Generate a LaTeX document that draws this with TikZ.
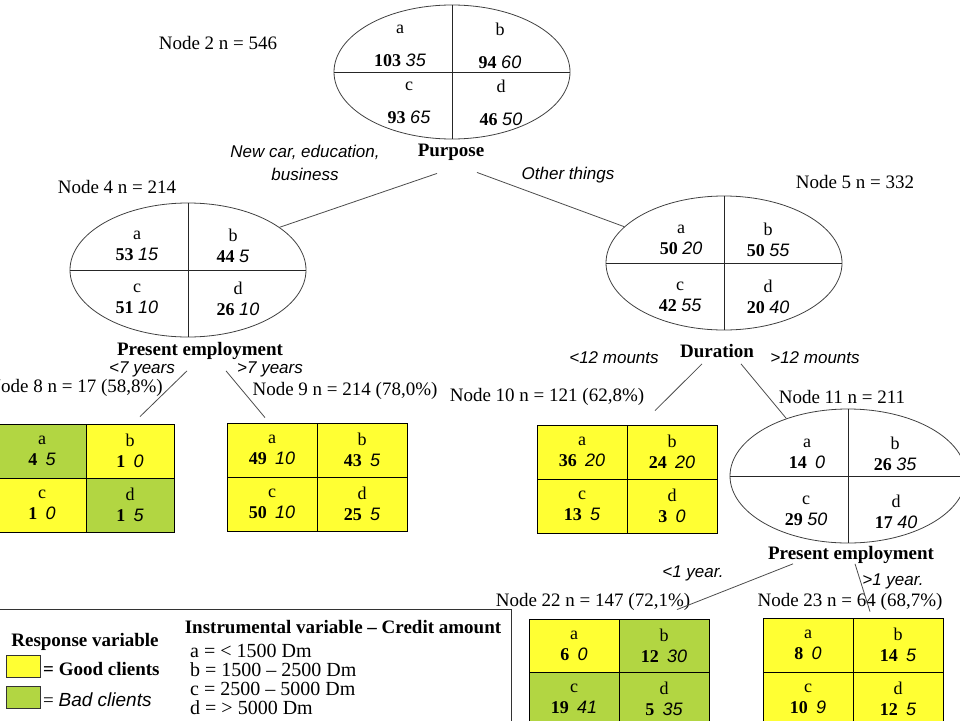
\documentclass[tikz,border=0pt]{standalone}
\usepackage{fontspec}
\setmainfont{Liberation Serif}
\newfontfamily\labelfont{Liberation Sans}
\usepackage{xcolor}
\usepackage{tikz}
\usetikzlibrary{positioning, shapes.geometric}
\definecolor{goodcol}{RGB}{255,255,51}
\definecolor{badcol}{RGB}{178,214,66}
\newcommand{\itn}[1]{{\labelfont\itshape #1}}
\newcommand{\cellv}[3]{#1\\\textbf{#2}~\itn{#3}}
\newcommand{\boxv}[3]{#1\\\textbf{#2}\hspace{0.45em}\itn{#3}}

\begin{document}
\begin{tikzpicture}[x=1pt, y=-1pt, font=\fontsize{19}{21}\selectfont]
	\tikzstyle{splitnode}=[ellipse, draw=black!75, line width=0.8pt, minimum width=236pt, minimum height=134pt, inner sep=0pt]
	\tikzstyle{divider}=[black!85, line width=0.9pt]
	\tikzstyle{quadtext}=[align=center, inner sep=0pt, font=\fontsize{18}{21}\selectfont]
	\tikzstyle{cellbox}=[rectangle, draw=black, line width=0.8pt, minimum width=88pt, minimum height=54pt, inner sep=0pt, align=center, font=\fontsize{18}{21}\selectfont]
	\tikzstyle{nodelabel}=[inner sep=0pt]
	\tikzstyle{splitlabel}=[inner sep=0pt, font=\fontsize{19}{21}\selectfont\bfseries]
	\tikzstyle{branchlabel}=[inner sep=0pt, align=center, font=\fontsize{17}{23}\selectfont\labelfont\itshape]
	\tikzstyle{branch}=[black!70, line width=0.8pt]

	\useasboundingbox (0,0) rectangle (960,720);
	\clip (0,0) rectangle (960,720);

	% node 2
	\node[nodelabel] (n2label) at (218,43) {Node 2 n = 546};
	\node[splitnode] (n2) at (452,72) {};
	\draw[divider] (n2.north) -- (n2.south);
	\draw[divider] (n2.west) -- (n2.east);
	\node[quadtext] (n2a) at (400,46) {a\\[12pt]\textbf{103}~\itn{35}};
	\node[quadtext] (n2b) at (500,46) {b\\[12pt]\textbf{94}~\itn{60}};
	\node[quadtext] (n2c) at (409,103) {c\\[12pt]\textbf{93}~\itn{65}};
	\node[quadtext] (n2d) at (501,103) {d\\[12pt]\textbf{46}~\itn{50}};
	\node[splitlabel] (purpose) at (451,152) {Purpose};
	\node[branchlabel] (newcar) at (305,163) {New car, education,\\business};
	\node[branchlabel] (other) at (568,175) {Other things};

	% node 4
	\node[nodelabel] (n4label) at (117,187) {Node 4 n = 214};
	\node[splitnode] (n4) at (188,270) {};
	\draw[divider] (n4.north) -- (n4.south);
	\draw[divider] (n4.west) -- (n4.east);
	\node[quadtext] (n4a) at (137,246) {\cellv{a}{53}{15}};
	\node[quadtext] (n4b) at (233,246) {\cellv{b}{44}{5}};
	\node[quadtext] (n4c) at (137,299) {\cellv{c}{51}{10}};
	\node[quadtext] (n4d) at (238,299) {\cellv{d}{26}{10}};
	\node[splitlabel] (emp4) at (200,351) {Present employment};
	\node[branchlabel] (lt7) at (142,369) {<7 years};
	\node[branchlabel] (gt7) at (270,369) {>7 years};

	% node 5
	\node[nodelabel] (n5label) at (855,182) {Node 5 n = 332};
	\node[splitnode] (n5) at (724,263) {};
	\draw[divider] (n5.north) -- (n5.south);
	\draw[divider] (n5.west) -- (n5.east);
	\node[quadtext] (n5a) at (681,240) {\cellv{a}{50}{20}};
	\node[quadtext] (n5b) at (768,240) {\cellv{b}{50}{55}};
	\node[quadtext] (n5c) at (680,297) {\cellv{c}{42}{55}};
	\node[quadtext] (n5d) at (768,297) {\cellv{d}{20}{40}};
	\node[splitlabel] (duration) at (717,351) {Duration};
	\node[branchlabel] (lt12) at (614,358) {<12 mounts};
	\node[branchlabel] (gt12) at (815,358) {>12 mounts};

	% leaves 8, 9, 10
	\node[nodelabel, anchor=east] (n8label) at (163,388) {Node 8 n = 17 (58,8\%)};
	\node[nodelabel] (n9label) at (345,391) {Node 9 n = 214 (78,0\%)};
	\node[nodelabel] (n10label) at (547,397) {Node 10 n = 121 (62,8\%)};
	\foreach \l/\g/\b/\f/\cx/\cy in {a/4/5/badcol/0/0, b/1/0/goodcol/1/0, c/1/0/goodcol/0/1, d/1/5/badcol/1/1}{
		\node[cellbox, fill=\f] (box8\l) at (42 + 88*\cx, 451 + 54*\cy) {\boxv{\l}{\g}{\b}};
	}
	\foreach \l/\g/\b/\cx/\cy in {a/49/10/0/0, b/43/5/1/0, c/50/10/0/1, d/25/5/1/1}{
		\node[cellbox, fill=goodcol, minimum width=90pt] (box9\l) at (272 + 90*\cx, 450 + 54*\cy) {\boxv{\l}{\g}{\b}};
	}
	\foreach \l/\g/\b/\cx/\cy in {a/36/20/0/0, b/24/20/1/0, c/13/5/0/1, d/3/0/1/1}{
		\node[cellbox, fill=goodcol, minimum width=90pt] (box10\l) at (582 + 90*\cx, 452 + 54*\cy) {\boxv{\l}{\g}{\b}};
	}

	% node 11
	\node[nodelabel] (n11label) at (842,397) {Node 11 n = 211};
	\node[splitnode] (n11) at (848,476) {};
	\draw[divider] (n11.north) -- (n11.south);
	\draw[divider] (n11.west) -- (n11.east);
	\node[quadtext] (n11a) at (807,454) {\boxv{a}{14}{0}};
	\node[quadtext] (n11b) at (895,454) {\cellv{b}{26}{35}};
	\node[quadtext] (n11c) at (806,511) {\cellv{c}{29}{50}};
	\node[quadtext] (n11d) at (896,512) {\cellv{d}{17}{40}};
	\node[splitlabel] (emp11) at (851,555) {Present employment};
	\node[branchlabel] (lt1) at (693,573) {<1 year.};
	\node[branchlabel] (gt1) at (893,581) {>1 year.};

	% leaves 22, 23
	\node[nodelabel] (n22label) at (593,602) {Node 22 n = 147 (72,1\%)};
	\node[nodelabel] (n23label) at (850,602) {Node 23 n = 64 (68,7\%)};
	\foreach \l/\g/\b/\f/\cx/\cy in {a/6/0/goodcol/0/0, b/12/30/badcol/1/0, c/19/41/badcol/0/1, d/5/35/badcol/1/1}{
		\node[cellbox, fill=\f, minimum width=90pt, minimum height=53pt] (box22\l) at (574 + 90*\cx, 645.5 + 53*\cy) {\boxv{\l}{\g}{\b}};
	}
	\foreach \l/\g/\b/\cx/\cy in {a/8/0/0/0, b/14/5/1/0, c/10/9/0/1, d/12/5/1/1}{
		\node[cellbox, fill=goodcol, minimum width=90pt] (box23\l) at (808 + 90*\cx, 645 + 54*\cy) {\boxv{\l}{\g}{\b}};
	}

	% branches
	\draw[branch] ([shift={(-14pt,-13pt)}]purpose.south) -- (n4.25);
	\draw[branch] ([shift={(26pt,-12pt)}]purpose.south) -- (n5.160);
	\draw[branch] ([shift={(-13pt,-11pt)}]emp4.south) -- ([shift={(10pt,7pt)}]box8b.north);
	\draw[branch] ([shift={(26pt,-11pt)}]emp4.south) -- ([shift={(-7pt,5pt)}]box9a.north);
	\draw[branch] ([shift={(-15pt,-6pt)}]duration.south) -- ([shift={(-17pt,14pt)}]box10b.north);
	\draw[branch] ([shift={(24pt,-6pt)}]duration.south) -- (n11.137);
	\draw[branch] ([shift={(-58pt,0pt)}]emp11.south) -- ([shift={(13pt,9pt)}]box22b.north);
	\draw[branch] ([shift={(4pt,0pt)}]emp11.south) -- ([shift={(-28pt,6pt)}]box23b.north);

	% legend
	\node[draw=black!80, line width=0.8pt, minimum width=515pt, minimum height=122pt, anchor=north west, inner sep=0pt] (legend) at (-4,609) {};
	\node[nodelabel] (resp) at (85,642) {\bfseries Response variable};
	\node[draw=black!80, fill=goodcol, minimum width=34pt, minimum height=22pt, inner sep=0pt] (goodsw) at (23,666) {};
	\node[nodelabel, anchor=west] (goodtxt) at (43,669) {\bfseries = Good clients};
	\node[draw=black!80, fill=badcol, minimum width=34pt, minimum height=22pt, inner sep=0pt] (badsw) at (23,697) {};
	\node[nodelabel, anchor=west] (badtxt) at (43,700) {= \itn{Bad clients}};
	\node[nodelabel] (instr) at (343,627) {\bfseries Instrumental variable -- Credit amount};
	\node[nodelabel, anchor=west, font=\fontsize{20}{22}\selectfont] (amta) at (190,651) {a = < 1500 Dm};
	\node[nodelabel, anchor=west, font=\fontsize{20}{22}\selectfont] (amtb) at (190,670) {b = 1500 -- 2500 Dm};
	\node[nodelabel, anchor=west, font=\fontsize{20}{22}\selectfont] (amtc) at (190,689) {c = 2500 -- 5000 Dm};
	\node[nodelabel, anchor=west, font=\fontsize{20}{22}\selectfont] (amtd) at (190,708) {d = > 5000 Dm};
\end{tikzpicture}
\end{document}
